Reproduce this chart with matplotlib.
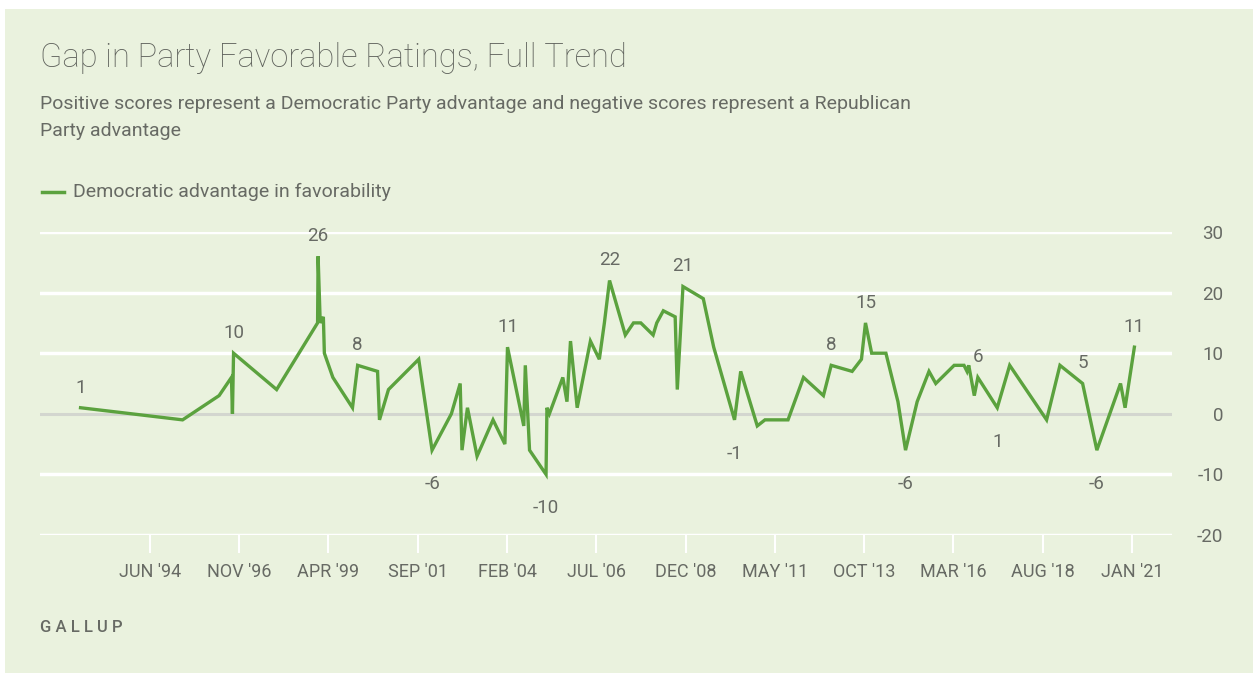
import pandas as pd
import matplotlib.pyplot as plt
from matplotlib.patches import Rectangle

# survey dates and Democratic advantage (D fav minus R fav)
dates = ['1992-07-15', '1995-04-20', '1996-04-15', '1996-08-15', '1996-08-25', '1996-09-05',
         '1997-11-05', '1998-12-15', '1998-12-20', '1999-01-10', '1999-02-10', '1999-02-20',
         '1999-05-15', '1999-11-25', '2000-01-15', '2000-07-30', '2000-08-18', '2000-11-15',
         '2001-09-10', '2002-01-20', '2002-07-30', '2002-10-25', '2002-11-12', '2003-01-05',
         '2003-04-10', '2003-09-15', '2004-01-10', '2004-02-05', '2004-07-15', '2004-07-30',
         '2004-09-10', '2005-02-20', '2005-03-01', '2005-03-25', '2005-08-05', '2005-09-15',
         '2005-10-20', '2005-12-25', '2006-05-05', '2006-08-01', '2006-09-20', '2006-11-10',
         '2007-04-15', '2007-07-05', '2007-09-15', '2008-01-15', '2008-02-20', '2008-04-25',
         '2008-08-20', '2008-09-10', '2008-11-05', '2009-05-25', '2009-09-05', '2010-03-30',
         '2010-05-30', '2010-11-10', '2011-01-25', '2011-09-10', '2012-02-10', '2012-08-25',
         '2012-11-10', '2013-06-05', '2013-09-05', '2013-10-15', '2013-12-15', '2014-05-05',
         '2014-09-01', '2014-11-15', '2015-03-10', '2015-07-05', '2015-09-10', '2016-03-10',
         '2016-06-15', '2016-07-15', '2016-08-01', '2016-09-25', '2016-10-30', '2017-05-10',
         '2017-09-10', '2018-09-10', '2019-01-20', '2019-09-01', '2020-01-20', '2020-09-10',
         '2020-10-25', '2021-01-25']
dem_adv = [1, -1, 3, 6, 0, 10,
           4, 15, 26, 15, 16, 10,
           6, 1, 8, 7, -1, 4,
           9, -6, 0, 5, -6, 1,
           -7, -1, -5, 11, -2, 8,
           -6, -10, 1, 0, 6, 2,
           12, 1, 12, 9, 15, 22,
           13, 15, 15, 13, 15, 17,
           16, 4, 21, 19, 11, -1,
           7, -2, -1, -1, 6, 3,
           8, 7, 9, 15, 10, 10,
           2, -6, 2, 7, 5, 8,
           8, 7, 8, 3, 6, 1,
           8, -1, 8, 5, -6, 5,
           1, 11]

# which points get a value label, and where
label_idx = [0, 5, 8, 14, 19, 27, 31, 41, 50, 53, 60, 63, 67, 76, 77, 81, 82, 85]
label_pos = ['up', 'up', 'up', 'up', 'down', 'up', 'down', 'up', 'up', 'down',
             'up', 'up', 'down', 'up', 'down', 'up', 'down', 'up']

tick_dates = ['1994-06-01', '1996-11-01', '1999-04-01', '2001-09-01', '2004-02-01',
              '2006-07-01', '2008-12-01', '2011-05-01', '2013-10-01', '2016-03-01',
              '2018-08-01', '2021-01-01']
tick_labels = ["JUN '94", "NOV '96", "APR '99", "SEP '01", "FEB '04", "JUL '06",
               "DEC '08", "MAY '11", "OCT '13", "MAR '16", "AUG '18", "JAN '21"]
y_ticks = [-20, -10, 0, 10, 20, 30]

bg = '#eaf2de'
green = '#5ba23e'
grey = '#676a64'
plt.rcParams['font.family'] = ['Roboto', 'DejaVu Sans']

W, H = 1253, 673
fig = plt.figure(figsize=(W / 100, H / 100), dpi=100)
fig.patch.set_facecolor('white')
fig.patches.append(Rectangle((5 / W, 0), 1, 1 - 9 / H, transform=fig.transFigure,
                             facecolor=bg, edgecolor='none', zorder=-10))

ax = fig.add_axes([40 / W, 1 - 535 / H, 1132 / W, 303 / H])
ax.patch.set_alpha(0)

x = pd.to_datetime(dates)
ax.set_xlim(pd.Timestamp('1991-06-10'), pd.Timestamp('2022-02-01'))
ax.set_ylim(-20, 30)

for v in y_ticks:
    if v == 0:
        ax.axhline(v, color='#d3d6cf', lw=2.2, zorder=1)
    else:
        ax.axhline(v, color='white', lw=2.5, zorder=1)

ax.plot(x, dem_adv, color=green, lw=2.4, zorder=3, clip_on=False, solid_joinstyle='miter')

for i, pos in zip(label_idx, label_pos):
    off = 8 if pos == 'up' else -18
    ax.annotate(str(dem_adv[i]), (x[i], dem_adv[i]), xytext=(0, off),
                textcoords='offset points', ha='center',
                va='bottom' if pos == 'up' else 'top', fontsize=13.5, color=grey)

for s in ax.spines.values():
    s.set_visible(False)

ax.set_xticks(pd.to_datetime(tick_dates))
ax.set_xticklabels(tick_labels)
ax.tick_params(axis='x', length=13, width=1.5, color='white', pad=7,
               labelsize=13, labelcolor=grey)

ax.yaxis.tick_right()
ax.set_yticks(y_ticks)
ax.set_yticklabels([str(v) for v in y_ticks], ha='right')
ax.tick_params(axis='y', length=0, pad=37, labelsize=13.5, labelcolor=grey)

fig.text(40 / W, 1 - 58 / H, 'Gap in Party Favorable Ratings, Full Trend',
         fontsize=23.5, color='#5f625c', va='center', ha='left', fontweight='light')
fig.text(40 / W, 1 - 104 / H,
         'Positive scores represent a Democratic Party advantage and negative scores represent a Republican',
         fontsize=14, color=grey, va='center', ha='left')
fig.text(40 / W, 1 - 131 / H, 'Party advantage', fontsize=14, color=grey, va='center', ha='left')

fig.lines.append(plt.Line2D([42 / W, 64 / W], [1 - 192 / H, 1 - 192 / H],
                            transform=fig.transFigure, color=green, lw=2.5))
fig.text(73 / W, 1 - 192 / H, 'Democratic advantage in favorability',
         fontsize=14, color=grey, va='center', ha='left')

fig.text(40 / W, 1 - 627 / H, 'G A L L U P', fontsize=12, color=grey, va='center',
         ha='left', fontweight='medium')

plt.savefig('out.png', dpi=100, facecolor=fig.get_facecolor())
